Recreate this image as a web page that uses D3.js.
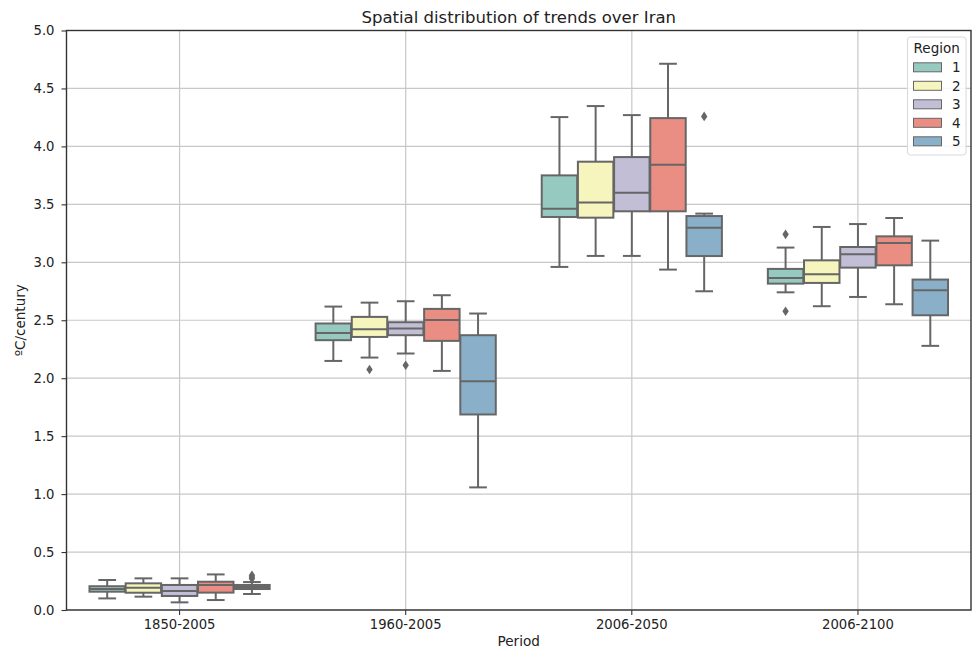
<!DOCTYPE html>
<html>
<head>
<meta charset="utf-8">
<script src="https://cdn.jsdelivr.net/npm/d3@7"></script>
<style>
  body { margin: 0; background: #fff; }
  text { font-family: "DejaVu Sans", sans-serif; fill: #222; }
</style>
</head>
<body>
<svg id="chart" width="973" height="648"></svg>
<script>
// ---- data ----
const periods = ["1850-2005", "1960-2005", "2006-2050", "2006-2100"];
const regions = ["1", "2", "3", "4", "5"];
const colors = ["#96cac1", "#f5f5bd", "#c1bed6", "#ea8e83", "#8aafc9"];
// per period, per region
const whiskerLow = [
  [0.100, 0.115, 0.066, 0.086, 0.138],
  [2.149, 2.178, 2.213, 2.063, 1.058],
  [2.960, 3.055, 3.055, 2.937, 2.750],
  [2.741, 2.621, 2.701, 2.638, 2.279]
];
const q1 = [
  [0.158, 0.149, 0.121, 0.150, 0.181],
  [2.328, 2.356, 2.371, 2.322, 1.687],
  [3.391, 3.385, 3.440, 3.440, 3.054],
  [2.816, 2.822, 2.954, 2.974, 2.543]
];
const median = [
  [0.181, 0.192, 0.164, 0.215, 0.198],
  [2.391, 2.422, 2.428, 2.503, 1.974],
  [3.463, 3.517, 3.600, 3.842, 3.299],
  [2.865, 2.897, 3.069, 3.166, 2.759]
];
const q3 = [
  [0.205, 0.230, 0.216, 0.244, 0.216],
  [2.472, 2.529, 2.483, 2.598, 2.371],
  [3.750, 3.868, 3.908, 4.244, 3.399],
  [2.943, 3.017, 3.132, 3.224, 2.851]
];
const whiskerHigh = [
  [0.259, 0.273, 0.273, 0.307, 0.241],
  [2.618, 2.652, 2.664, 2.716, 2.558],
  [4.253, 4.348, 4.270, 4.713, 3.420],
  [3.127, 3.305, 3.330, 3.382, 3.187]
];
// outliers: [period index, region index, value]
const outliers = [
  [0, 4, 0.270], [0, 4, 0.285], [0, 4, 0.300],
  [1, 1, 2.075], [1, 2, 2.112],
  [2, 4, 4.259],
  [3, 0, 3.241], [3, 0, 2.578]
];
const yTicks = [0.0, 0.5, 1.0, 1.5, 2.0, 2.5, 3.0, 3.5, 4.0, 4.5, 5.0];

// ---- layout ----
const svg = d3.select("#chart");
const L = 66.5, R = 971, T = 30.5, B = 610;
const x = d3.scaleBand().domain(periods).range([L, R]).padding(0);
const y = d3.scaleLinear().domain([0, 5]).range([B, T]);
const hue = d3.scaleBand().domain(regions)
  .range([x.bandwidth() * 0.1, x.bandwidth() * 0.9]).padding(0);
const boxW = hue.bandwidth() * 0.98;
const lineC = "#666666";

// grid
svg.append("g").selectAll("line").data(yTicks).join("line")
  .attr("x1", L).attr("x2", R)
  .attr("y1", d => y(d)).attr("y2", d => y(d))
  .attr("stroke", "#c8c8c8").attr("stroke-width", 1.2);
svg.append("g").selectAll("line").data(periods).join("line")
  .attr("x1", d => x(d) + x.bandwidth() / 2).attr("x2", d => x(d) + x.bandwidth() / 2)
  .attr("y1", T).attr("y2", B)
  .attr("stroke", "#c8c8c8").attr("stroke-width", 1.2);

// boxes
const items = [];
periods.forEach((p, i) => regions.forEach((r, j) => items.push({
  p, r, i, j,
  lo: whiskerLow[i][j], q1: q1[i][j], med: median[i][j], q3: q3[i][j], hi: whiskerHigh[i][j]
})));
const cx = d => x(d.p) + hue(d.r) + hue.bandwidth() / 2;
const g = svg.append("g");
const bx = g.selectAll("g.box").data(items).join("g").attr("class", "box");
// whiskers
bx.append("line").attr("x1", cx).attr("x2", cx)
  .attr("y1", d => y(d.q3)).attr("y2", d => y(d.hi))
  .attr("stroke", lineC).attr("stroke-width", 2);
bx.append("line").attr("x1", cx).attr("x2", cx)
  .attr("y1", d => y(d.q1)).attr("y2", d => y(d.lo))
  .attr("stroke", lineC).attr("stroke-width", 2);
// caps
["hi", "lo"].forEach(k => {
  bx.append("line")
    .attr("x1", d => cx(d) - boxW / 4).attr("x2", d => cx(d) + boxW / 4)
    .attr("y1", d => y(d[k])).attr("y2", d => y(d[k]))
    .attr("stroke", lineC).attr("stroke-width", 2);
});
// box
bx.append("rect")
  .attr("x", d => cx(d) - boxW / 2).attr("width", boxW)
  .attr("y", d => y(d.q3)).attr("height", d => y(d.q1) - y(d.q3))
  .attr("fill", d => colors[d.j]).attr("stroke", lineC).attr("stroke-width", 2);
// median
bx.append("line")
  .attr("x1", d => cx(d) - boxW / 2).attr("x2", d => cx(d) + boxW / 2)
  .attr("y1", d => y(d.med)).attr("y2", d => y(d.med))
  .attr("stroke", lineC).attr("stroke-width", 2);
// outliers (thin diamonds)
g.selectAll("path.flier").data(outliers).join("path").attr("class", "flier")
  .attr("transform", d => `translate(${x(periods[d[0]]) + hue(regions[d[1]]) + hue.bandwidth() / 2},${y(d[2])})`)
  .attr("d", "M0,-4.8L3.2,0L0,4.8L-3.2,0Z")
  .attr("fill", lineC);

// axes
const yAxis = d3.axisLeft(y).tickValues(yTicks).tickFormat(d3.format(".1f")).tickSize(5).tickPadding(7);
const ya = svg.append("g").attr("transform", `translate(${L},0)`).call(yAxis);
const xAxis = d3.axisBottom(x).tickSize(5).tickPadding(5);
const xa = svg.append("g").attr("transform", `translate(0,${B})`).call(xAxis);
[ya, xa].forEach(a => {
  a.select(".domain").remove();
  a.selectAll(".tick line").attr("stroke", "#333").attr("stroke-width", 1.1);
  a.selectAll(".tick text").style("font-size", "13.2px").style("font-family", "DejaVu Sans").attr("fill", "#222");
});
// spines
svg.append("rect").attr("x", L).attr("y", T).attr("width", R - L).attr("height", B - T)
  .attr("fill", "none").attr("stroke", "#333").attr("stroke-width", 1.4);

// labels
svg.append("text").attr("x", (L + R) / 2).attr("y", 23).attr("text-anchor", "middle")
  .style("font-size", "16.5px").text("Spatial distribution of trends over Iran");
svg.append("text").attr("x", (L + R) / 2).attr("y", 646).attr("text-anchor", "middle")
  .style("font-size", "13.6px").text("Period");
svg.append("text").attr("transform", `translate(25,${(T + B) / 2}) rotate(-90)`)
  .attr("text-anchor", "middle").style("font-size", "13.5px").text("ºC/century");

// legend
const lg = svg.append("g");
lg.append("rect").attr("x", 907.5).attr("y", 37).attr("width", 58.5).attr("height", 118).attr("rx", 3)
  .attr("fill", "#fff").attr("fill-opacity", 0.85).attr("stroke", "#d8d8d8").attr("stroke-width", 1);
lg.append("text").attr("x", 936.7).attr("y", 52.5).attr("text-anchor", "middle")
  .style("font-size", "13.5px").text("Region");
const le = lg.selectAll("g.le").data(regions).join("g").attr("class", "le")
  .attr("transform", (d, i) => `translate(0,${67.3 + i * 18.5})`);
le.append("rect").attr("x", 913.5).attr("y", -4.5).attr("width", 28).attr("height", 9)
  .attr("fill", (d, i) => colors[i]).attr("stroke", lineC).attr("stroke-width", 1);
le.append("text").attr("x", 952).attr("y", 5).style("font-size", "13.5px").text(d => d);
</script>
</body>
</html>
